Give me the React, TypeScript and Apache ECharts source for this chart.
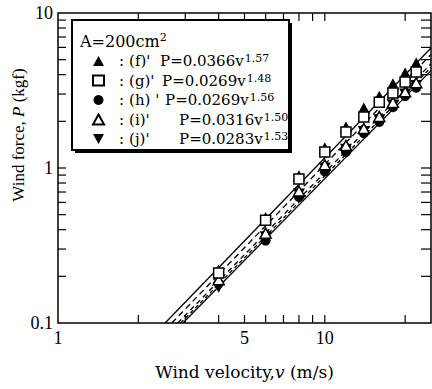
import React, { useEffect, useRef } from "react";
import * as echarts from "echarts";

// ---- data ----
const velocities = [4, 6, 8, 10, 12, 14, 16, 18, 20, 22];
const forceF = [0.22, 0.48, 0.89, 1.35, 1.84, 2.44, 2.9, 3.5, 4.1, 4.76];
const forceG = [0.21, 0.46, 0.85, 1.27, 1.71, 2.13, 2.66, 3.05, 3.59, 4.16];
const forceH = [0.18, 0.34, 0.65, 0.95, 1.27, 1.68, 1.98, 2.47, 2.91, 3.3];
const forceI = [0.19, 0.38, 0.71, 1.05, 1.4, 1.8, 2.15, 2.65, 3.1, 3.55];
const forceJ = [0.17, 0.36, 0.68, 1.0, 1.32, 1.72, 2.05, 2.55, 3.0, 3.4];

// fitted lines: [start, end] in (v, P)
const fitLineF = [[2.52, 0.1], [25, 5.95]];
const fitLineG = [[2.67, 0.1], [25, 5.4]];
const fitLineI = [[2.81, 0.1], [25, 4.7]];
const fitLineJ = [[2.88, 0.1], [25, 4.45]];
const fitLineH = [[2.94, 0.1], [25, 4.25]];

const seriesNames = ["f", "g", "h", "i", "j"];
const seriesIds = ["(f)'", "(g)'", "(h) '", "(i)'", "(j)'"];
const coefficients = ["0.0366", "0.0269", "0.0269", "0.0316", "0.0283"];
const exponents = ["1.57", "1.48", "1.56", "1.50", "1.53"];
const areaLabel = "A=200cm";
const areaSup = "2";

const xMin = 1;
const xMax = 25;
const yMin = 0.1;
const yMax = 10;
const xTickValues = [2, 3, 4, 5, 6, 7, 8, 9, 10, 20];
const yTickValues = [0.2, 0.3, 0.4, 0.5, 0.6, 0.7, 0.8, 0.9, 1, 2, 3, 4, 5, 6, 7, 8, 9];
const xLabelValues = [1, 5, 10];
const yLabelValues = [0.1, 1, 10];

// ---- style ----
const SERIF = '"Liberation Serif", "Times New Roman", serif';
const WIDE_SERIF = '"DejaVu Serif", serif';
const TICK = 8;
const idWidths = [31, 33, 36, 50, 50];
const LEG_FONT = 15;

const pairs = (ys: number[]) => velocities.map((v, i) => [v, ys[i]]);

export default function App() {
  const ref = useRef<HTMLDivElement>(null);
  useEffect(() => {
    if (!ref.current) return;
    const chart = echarts.init(ref.current, null, { renderer: "svg" });
    const tickStyle = { stroke: "#000", lineWidth: 1.2 };

    const rich: any = {
      c: { fontFamily: WIDE_SERIF, fontSize: LEG_FONT, color: "#000", padding: [0, 5, 0, 10], lineHeight: 16 },
      p: { fontFamily: WIDE_SERIF, fontSize: LEG_FONT, color: "#000", lineHeight: 16 },
      s: { fontFamily: WIDE_SERIF, fontSize: 11, color: "#000", verticalAlign: "top", lineHeight: 16, padding: [0, 0, 0, 1] },
    };
    idWidths.forEach((w, i) => {
      rich["id" + i] = { fontFamily: WIDE_SERIF, fontSize: LEG_FONT, color: "#000", width: w, lineHeight: 16 };
    });

    const lineSeries = (data: number[][], type: any) => ({
      type: "line",
      data,
      showSymbol: false,
      symbol: "none",
      silent: true,
      z: 1,
      lineStyle: { color: "#000", width: 1.3, type },
    });

    chart.setOption({
      animation: false,
      backgroundColor: "#fff",
      grid: { left: 58, right: 1, top: 13, bottom: 66, show: true, borderColor: "#000", borderWidth: 1.5, backgroundColor: "transparent" },
      xAxis: {
        type: "log",
        logBase: 10,
        min: xMin,
        max: xMax,
        axisLine: { show: false },
        axisTick: { show: false },
        axisLabel: { show: false },
        splitLine: { show: false },
        name: "Wind velocity,{i|v} (m/s)",
        nameLocation: "middle",
        nameGap: 40,
        nameTextStyle: {
          fontFamily: WIDE_SERIF,
          fontSize: 17,
          color: "#000",
          rich: { i: { fontFamily: WIDE_SERIF, fontSize: 17, fontStyle: "italic", color: "#000" } },
        },
      },
      yAxis: {
        type: "log",
        logBase: 10,
        min: yMin,
        max: yMax,
        axisLine: { show: false },
        axisTick: { show: false },
        axisLabel: { show: false },
        splitLine: { show: false },
      },
      legend: {
        orient: "vertical",
        left: 92,
        top: 53,
        z: 10,
        itemWidth: 11,
        itemHeight: 10,
        itemGap: 4,
        padding: 0,
        data: seriesNames,
        formatter: (name: string) => {
          const i = seriesNames.indexOf(name);
          return `{c|:}{id${i}|${seriesIds[i]}}{p|P=${coefficients[i]}v}{s|${exponents[i]}}`;
        },
        textStyle: { rich },
      },
      graphic: [
        { type: "rect", z: 5, shape: { x: 75, y: 23, width: 217, height: 130 }, style: { fill: "#000" } },
        { type: "rect", z: 6, shape: { x: 72, y: 20, width: 217, height: 130 }, style: { fill: "#fff", stroke: "#000", lineWidth: 2 } },
        {
          type: "text",
          z: 7,
          x: 80,
          y: 41,
          style: {
            text: `{m|${areaLabel}}{s|${areaSup}}`,
            verticalAlign: "middle",
            rich: {
              m: { fontFamily: WIDE_SERIF, fontSize: 16, fill: "#000", lineHeight: 18 },
              s: { fontFamily: WIDE_SERIF, fontSize: 11, fill: "#000", verticalAlign: "top", lineHeight: 18 },
            },
          },
        },
        {
          type: "text",
          z: 7,
          x: 18,
          y: 135,
          rotation: Math.PI / 2,
          style: {
            text: "{m|Wind force, }{i|P}{m| (kgf)}",
            align: "center",
            verticalAlign: "middle",
            rich: {
              m: { fontFamily: SERIF, fontSize: 17, fill: "#000" },
              i: { fontFamily: SERIF, fontSize: 17, fontStyle: "italic", fill: "#000" },
            },
          },
        },
      ],
      series: [
        lineSeries(fitLineF, "solid"),
        lineSeries(fitLineG, [6, 4]),
        lineSeries(fitLineI, [5, 4]),
        lineSeries(fitLineJ, [4, 3]),
        lineSeries(fitLineH, "solid"),
        {
          name: "h",
          type: "scatter",
          data: pairs(forceH),
          symbol: "circle",
          symbolSize: 10,
          itemStyle: { color: "#000", opacity: 1 },
          z: 3,
        },
        {
          name: "j",
          type: "scatter",
          data: pairs(forceJ),
          symbol: "path://M0,0L10,0L5,9Z",
          symbolSize: [12, 11],
          itemStyle: { color: "#000", opacity: 1 },
          z: 3,
        },
        {
          name: "i",
          type: "scatter",
          data: pairs(forceI),
          symbol: "triangle",
          symbolSize: [11, 10],
          itemStyle: { color: "#fff", borderColor: "#000", borderWidth: 1.5, opacity: 1 },
          z: 3,
        },
        {
          name: "f",
          type: "scatter",
          data: pairs(forceF),
          symbol: "triangle",
          symbolSize: [12, 11],
          itemStyle: { color: "#000", opacity: 1 },
          z: 3,
        },
        {
          name: "g",
          type: "scatter",
          data: pairs(forceG),
          symbol: "rect",
          symbolSize: 10,
          itemStyle: { color: "#fff", borderColor: "#000", borderWidth: 1.5, opacity: 1 },
          z: 4,
        },
        {
          type: "custom",
          silent: true,
          clip: false,
          z: 5,
          data: xTickValues.map((v) => [v, yMin]),
          renderItem: (_p: any, api: any) => {
            const v = api.value(0);
            const b = api.coord([v, yMin]);
            const t = api.coord([v, yMax]);
            return {
              type: "group",
              children: [
                { type: "line", shape: { x1: b[0], y1: b[1], x2: b[0], y2: b[1] - TICK }, style: tickStyle },
                { type: "line", shape: { x1: t[0], y1: t[1], x2: t[0], y2: t[1] + TICK }, style: tickStyle },
              ],
            };
          },
        },
        {
          type: "custom",
          silent: true,
          clip: false,
          z: 5,
          data: yTickValues.map((p) => [xMin, p]),
          renderItem: (_p: any, api: any) => {
            const p = api.value(1);
            const l = api.coord([xMin, p]);
            const r = api.coord([xMax, p]);
            return {
              type: "group",
              children: [
                { type: "line", shape: { x1: l[0], y1: l[1], x2: l[0] + TICK, y2: l[1] }, style: tickStyle },
                { type: "line", shape: { x1: r[0], y1: r[1], x2: r[0] - TICK - 2, y2: r[1] }, style: tickStyle },
              ],
            };
          },
        },
        {
          type: "custom",
          silent: true,
          clip: false,
          z: 5,
          data: xLabelValues.map((v) => [v, yMin]),
          renderItem: (_p: any, api: any) => {
            const v = api.value(0);
            const b = api.coord([v, yMin]);
            return {
              type: "text",
              x: b[0],
              y: b[1] + 15,
              style: { text: String(v), fill: "#000", fontFamily: SERIF, fontSize: 18, align: "center", verticalAlign: "middle" },
            };
          },
        },
        {
          type: "custom",
          silent: true,
          clip: false,
          z: 5,
          data: yLabelValues.map((p) => [xMin, p]),
          renderItem: (_p: any, api: any) => {
            const p = api.value(1);
            const l = api.coord([xMin, p]);
            return {
              type: "text",
              x: l[0] - 5,
              y: l[1],
              style: { text: String(p), fill: "#000", fontFamily: SERIF, fontSize: 18, align: "right", verticalAlign: "middle" },
            };
          },
        },
      ],
    });
    return () => chart.dispose();
  }, []);
  return <div ref={ref} style={{ position: "fixed", left: 0, top: 0, width: 432, height: 389 }} />;
}
